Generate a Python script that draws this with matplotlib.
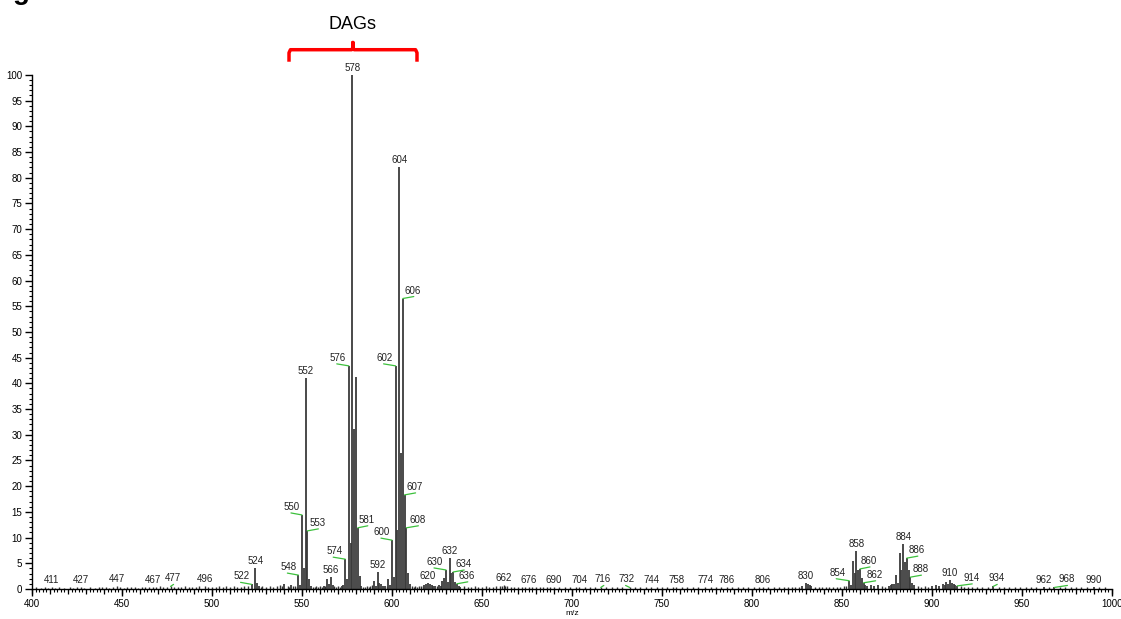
import matplotlib
matplotlib.use("Agg")
import matplotlib.pyplot as plt
from matplotlib.ticker import MultipleLocator, NullFormatter

plt.rcParams['font.family'] = ['Liberation Sans', 'DejaVu Sans']

# main peaks (m/z, relative intensity %)
peak_mz = [522, 524, 525, 526, 540, 544, 548, 549, 550, 551, 552, 553, 554, 555,
           562, 564, 565, 566, 567, 572, 573, 574, 575, 576, 577, 578, 579, 580,
           581, 582, 583, 590, 591, 592, 593, 594, 595, 596, 598, 599, 600, 601,
           602, 603, 604, 605, 606, 607, 608, 609, 610, 618, 619, 620, 621, 622,
           623, 624, 626, 627, 628, 629, 630, 631, 632, 633, 634, 635, 636, 637,
           638, 828, 830, 831, 832, 833, 854, 855, 856, 857, 858, 859, 860, 861,
           862, 863, 864, 866, 868, 870, 876, 877, 878, 879, 880, 881, 882, 883,
           884, 885, 886, 887, 888, 889, 890, 900, 902, 904, 906, 907, 908, 909,
           910, 911, 912, 913, 914, 934, 962, 968, 990]
peak_int = [0.9, 4.1, 1.2, 0.6, 1.0, 0.8, 2.7, 0.7, 14.4, 4.1, 41.0, 11.3, 2.0, 0.5,
            0.6, 1.9, 1.0, 2.4, 0.8, 0.5, 0.8, 5.8, 1.9, 43.4, 8.9, 100.0, 31.1, 41.3,
            11.9, 2.5, 0.6, 1.6, 0.5, 3.3, 1.2, 1.0, 0.6, 0.5, 1.9, 0.8, 9.5, 2.4,
            43.4, 11.5, 82.0, 26.4, 56.5, 18.3, 11.9, 3.1, 1.0, 0.8, 1.0, 1.2, 1.0, 0.8,
            0.6, 0.6, 0.8, 0.6, 1.6, 2.1, 3.7, 1.4, 6.0, 3.1, 3.3, 1.4, 1.0, 0.6,
            0.4, 0.5, 1.2, 0.9, 0.8, 0.6, 1.6, 0.8, 5.5, 3.1, 7.4, 3.7, 3.9, 2.1,
            1.2, 0.8, 0.6, 0.7, 0.6, 0.8, 0.6, 0.8, 1.0, 0.9, 2.7, 1.2, 7.0, 3.7,
            8.8, 5.3, 6.0, 3.6, 2.3, 1.2, 0.8, 0.5, 0.7, 0.6, 0.9, 0.8, 1.4, 0.9,
            1.8, 1.2, 1.0, 0.8, 0.6, 0.5, 0.3, 0.3, 0.3]

# low-level baseline peaks
minor_mz = [402, 405, 407, 409, 411, 413, 415, 418, 421, 423, 425, 427, 429, 432,
            435, 437, 439, 441, 443, 445, 447, 449, 451, 453, 455, 457, 459, 461,
            463, 465, 467, 469, 471, 473, 475, 477, 479, 481, 483, 485, 487, 489,
            491, 493, 496, 498, 500, 502, 504, 506, 508, 510, 512, 514, 516, 518,
            520, 527, 528, 530, 532, 534, 536, 538, 539, 542, 543, 545, 546, 547,
            556, 557, 558, 559, 560, 561, 563, 568, 569, 570, 571, 584, 585, 586,
            587, 588, 589, 597, 611, 612, 613, 614, 615, 616, 617, 625, 640, 642,
            644, 646, 648, 650, 652, 654, 656, 658, 660, 661, 662, 663, 664, 666,
            668, 670, 672, 674, 676, 678, 680, 682, 684, 686, 688, 690, 693, 696,
            699, 702, 704, 707, 710, 713, 716, 719, 722, 725, 728, 732, 735, 738,
            741, 744, 747, 750, 753, 756, 758, 761, 764, 767, 770, 774, 777, 780,
            783, 786, 789, 792, 795, 798, 801, 804, 806, 809, 812, 815, 818, 820,
            822, 824, 826, 835, 837, 839, 841, 843, 845, 847, 849, 851, 852, 872,
            874, 892, 894, 896, 898, 916, 918, 920, 922, 925, 928, 931, 937, 940,
            943, 946, 949, 952, 955, 958, 965, 971, 974, 977, 980, 983, 986, 993,
            996]
minor_int = [0.3, 0.2, 0.3, 0.2, 0.4, 0.2, 0.3, 0.2, 0.3, 0.2, 0.3, 0.4, 0.2, 0.3,
             0.2, 0.3, 0.4, 0.3, 0.2, 0.3, 0.5, 0.3, 0.2, 0.3, 0.4, 0.3, 0.2, 0.3,
             0.4, 0.3, 0.4, 0.3, 0.5, 0.3, 0.4, 0.5, 0.3, 0.4, 0.3, 0.5, 0.4, 0.3,
             0.4, 0.5, 0.5, 0.3, 0.4, 0.3, 0.5, 0.4, 0.6, 0.4, 0.5, 0.4, 0.3, 0.5,
             0.6, 0.4, 0.5, 0.4, 0.5, 0.4, 0.6, 0.8, 0.5, 0.6, 0.4, 0.5, 0.6, 0.4,
             0.4, 0.3, 0.5, 0.4, 0.5, 0.4, 0.6, 0.5, 0.4, 0.6, 0.4, 0.4, 0.3, 0.5,
             0.4, 0.6, 0.8, 0.6, 0.6, 0.4, 0.5, 0.4, 0.5, 0.6, 0.5, 0.5, 0.5, 0.4,
             0.3, 0.5, 0.4, 0.3, 0.5, 0.4, 0.3, 0.6, 0.5, 0.6, 0.8, 0.5, 0.6, 0.4,
             0.3, 0.4, 0.3, 0.4, 0.4, 0.3, 0.4, 0.3, 0.4, 0.3, 0.4, 0.4, 0.3, 0.4,
             0.3, 0.3, 0.4, 0.3, 0.3, 0.4, 0.3, 0.3, 0.3, 0.4, 0.3, 0.3, 0.3, 0.3,
             0.3, 0.3, 0.3, 0.3, 0.3, 0.3, 0.3, 0.3, 0.3, 0.3, 0.3, 0.3, 0.3, 0.3,
             0.3, 0.3, 0.3, 0.3, 0.3, 0.3, 0.3, 0.3, 0.3, 0.3, 0.3, 0.3, 0.3, 0.3,
             0.3, 0.4, 0.3, 0.4, 0.3, 0.4, 0.3, 0.3, 0.4, 0.3, 0.4, 0.5, 0.6, 0.5,
             0.4, 0.5, 0.4, 0.5, 0.4, 0.5, 0.4, 0.3, 0.3, 0.3, 0.3, 0.3, 0.3, 0.3,
             0.3, 0.3, 0.3, 0.3, 0.3, 0.3, 0.3, 0.3, 0.3, 0.3, 0.3, 0.3, 0.3, 0.3,
             0.3]

# labelled peaks: m/z, label shift in pixels, whether a leader line is drawn
label_mz = [411, 427, 447, 467, 477, 496, 522, 524, 548, 550, 552, 553, 566, 574,
            576, 578, 581, 592, 600, 602, 604, 606, 607, 608, 620, 630, 632, 634,
            636, 662, 676, 690, 704, 716, 732, 744, 758, 774, 786, 806, 830, 854,
            858, 860, 862, 884, 886, 888, 910, 914, 934, 962, 968, 990]
label_dx = [0, 0, 0, 0, 2, 0, -10, 0, -10, -10, 0, 10, 0, -11,
            -11, 0, 9, 0, -10, -11, 0, 10, 10, 11, 0, -11, 0, 10,
            10, 0, 0, 0, 0, 2, -3, 0, 0, 0, 0, 0, 0, -12,
            0, 9, 11, 0, 10, 10, 0, 14, 3, 0, 12, 0]
leader = [False, False, False, False, True, False, True, False, True, True, False, True, False, True,
          True, False, True, False, True, True, False, True, True, True, False, True, False, True,
          True, False, False, False, False, True, True, False, False, False, False, False, False, True,
          False, True, True, False, True, True, False, True, True, False, True, False]

height = dict(zip(minor_mz, minor_int))
height.update(dict(zip(peak_mz, peak_int)))

fig = plt.figure(figsize=(11.21, 6.19), dpi=100)
ax = fig.add_axes([0.0285, 0.0485, 0.9635, 0.8305])

ax.vlines(minor_mz, 0, minor_int, color='#333333', lw=1.0)
ax.vlines(peak_mz, 0, peak_int, color='#3a3a3a', lw=1.3)

for mz, dx, ld in zip(label_mz, label_dx, leader):
    h = height.get(mz, 0.3)
    if ld:
        # short green leader from the peak top to under the shifted label
        end = dx + (1 if dx > 0 else -1 if dx < 0 else 3)
        ax.annotate('', xy=(mz, h), xytext=(end, 2), textcoords='offset pixels',
                    annotation_clip=False, zorder=4,
                    arrowprops=dict(arrowstyle='-', color='#3cc03c', lw=0.9,
                                    shrinkA=0, shrinkB=0))
        dy = 3
    else:
        dy = 2
    ax.annotate(str(mz), xy=(mz, h), xytext=(dx, dy), textcoords='offset pixels',
                ha='center', va='bottom', fontsize=7, color='#222222',
                annotation_clip=False)

ax.set_xlim(400, 1000)
ax.set_ylim(0, 100)
ax.xaxis.set_major_locator(MultipleLocator(50))
ax.xaxis.set_minor_locator(MultipleLocator(2))
ax.yaxis.set_major_locator(MultipleLocator(5))
ax.yaxis.set_minor_locator(MultipleLocator(1))
ax.tick_params(which='major', length=5, width=1, labelsize=7, pad=2)
ax.tick_params(which='minor', length=2.5, width=0.8)
for s in ['top', 'right']:
    ax.spines[s].set_visible(False)
ax.spines['left'].set_linewidth(1)
ax.spines['bottom'].set_linewidth(1)
ax.set_xlabel('m/z', fontsize=6, labelpad=1)

# medium ticks every 10 m/z
sec = ax.secondary_xaxis('bottom')
sec.xaxis.set_major_locator(MultipleLocator(10))
sec.xaxis.set_major_formatter(NullFormatter())
sec.tick_params(length=3.8, width=0.9)
sec.spines['bottom'].set_visible(False)

# DAGs bracket above the diacylglycerol cluster
bx = [542.8, 542.8, 543.6, 577.6, 578.3, 578.3, 578.3, 579.0, 613.1, 613.9, 613.9]
by = [102.9, 104.3, 104.9, 104.9, 105.3, 106.3, 105.3, 104.9, 104.9, 104.3, 102.9]
ax.plot(bx, by, color='#ff0000', lw=2.5, clip_on=False, solid_joinstyle='round')
ax.text(578.3, 109.8, 'DAGs', ha='center', va='center', fontsize=13, clip_on=False)

# cut-off figure caption at top-left
fig.text(13 / 1121, 1 + 1 / 619, 'g', fontsize=20, fontweight='bold', va='baseline')

fig.savefig('out.png', dpi=100)
